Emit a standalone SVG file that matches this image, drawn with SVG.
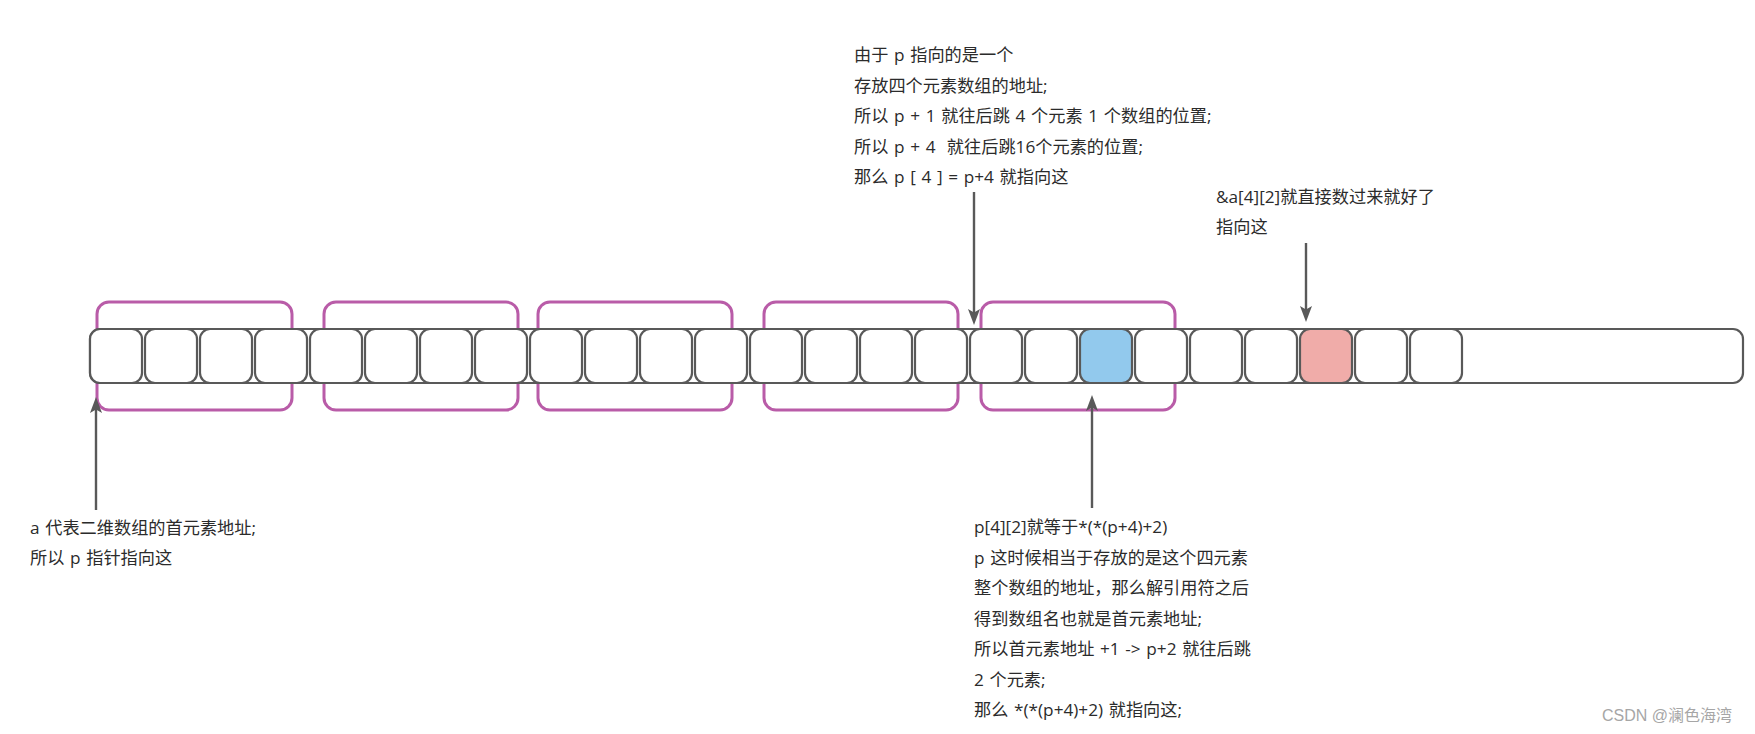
<svg xmlns="http://www.w3.org/2000/svg" width="1755" height="734" viewBox="0 0 1755 734">
<style>
.cell{fill:#ffffff;stroke:#595959;stroke-width:2.2}
.grp{fill:none;stroke:#b95ca8;stroke-width:3}
.conn{stroke:#595959;stroke-width:2.4;fill:none}
.t{font-family:"Open Sans","Noto Sans CJK SC",sans-serif;font-size:17.2px;word-spacing:1.2px;fill:#2b2b2b;white-space:pre}
.wm{font-family:"Liberation Sans","Noto Sans CJK SC",sans-serif;font-size:16px;fill:#a6a6a6}
</style>
<defs>
<marker id="arr" markerUnits="userSpaceOnUse" markerWidth="18" markerHeight="14" refX="11" refY="6" orient="auto">
<path d="M0,0 L16,6 L0,12 L3.5,6 Z" fill="#595959"/>
</marker>
</defs>
<rect width="1755" height="734" fill="#ffffff"/>
<g id="groups">
<rect id="g0" class="grp" x="97" y="302" width="195" height="108" rx="12"/>
<rect id="g1" class="grp" x="324" y="302" width="194" height="108" rx="12"/>
<rect id="g2" class="grp" x="538" y="302" width="194" height="108" rx="12"/>
<rect id="g3" class="grp" x="764" y="302" width="194" height="108" rx="12"/>
<rect id="g4" class="grp" x="981" y="302" width="194" height="108" rx="12"/>
</g>
<g id="array">
<rect id="bar" class="cell" x="90" y="329" width="1653" height="54" rx="10"/>
<rect id="c0" class="cell" x="90" y="329" width="52" height="54" rx="10"/>
<rect id="c1" class="cell" x="145" y="329" width="52" height="54" rx="10"/>
<rect id="c2" class="cell" x="200" y="329" width="52" height="54" rx="10"/>
<rect id="c3" class="cell" x="255" y="329" width="52" height="54" rx="10"/>
<rect id="c4" class="cell" x="310" y="329" width="52" height="54" rx="10"/>
<rect id="c5" class="cell" x="365" y="329" width="52" height="54" rx="10"/>
<rect id="c6" class="cell" x="420" y="329" width="52" height="54" rx="10"/>
<rect id="c7" class="cell" x="475" y="329" width="52" height="54" rx="10"/>
<rect id="c8" class="cell" x="530" y="329" width="52" height="54" rx="10"/>
<rect id="c9" class="cell" x="585" y="329" width="52" height="54" rx="10"/>
<rect id="c10" class="cell" x="640" y="329" width="52" height="54" rx="10"/>
<rect id="c11" class="cell" x="695" y="329" width="52" height="54" rx="10"/>
<rect id="c12" class="cell" x="750" y="329" width="52" height="54" rx="10"/>
<rect id="c13" class="cell" x="805" y="329" width="52" height="54" rx="10"/>
<rect id="c14" class="cell" x="860" y="329" width="52" height="54" rx="10"/>
<rect id="c15" class="cell" x="915" y="329" width="52" height="54" rx="10"/>
<rect id="c16" class="cell" x="970" y="329" width="52" height="54" rx="10"/>
<rect id="c17" class="cell" x="1025" y="329" width="52" height="54" rx="10"/>
<rect id="c18" class="cell" x="1080" y="329" width="52" height="54" rx="10" style="fill:#92c9ed"/>
<rect id="c19" class="cell" x="1135" y="329" width="52" height="54" rx="10"/>
<rect id="c20" class="cell" x="1190" y="329" width="52" height="54" rx="10"/>
<rect id="c21" class="cell" x="1245" y="329" width="52" height="54" rx="10"/>
<rect id="c22" class="cell" x="1300" y="329" width="52" height="54" rx="10" style="fill:#f0aca9"/>
<rect id="c23" class="cell" x="1355" y="329" width="52" height="54" rx="10"/>
<rect id="c24" class="cell" x="1410" y="329" width="52" height="54" rx="10"/>
</g>
<g id="connectors">
<line class="conn" x1="96" y1="510" x2="96" y2="402" marker-end="url(#arr)"/>
<line class="conn" x1="974" y1="192" x2="974" y2="320" marker-end="url(#arr)"/>
<line class="conn" x1="1092" y1="508" x2="1092" y2="400" marker-end="url(#arr)"/>
<line class="conn" x1="1306" y1="243" x2="1306" y2="317" marker-end="url(#arr)"/>
</g>
<g id="note-top">
<text class="t" x="854" y="61">由于 p 指向的是一个</text>
<text class="t" x="854" y="91.5">存放四个元素数组的地址;</text>
<text class="t" x="854" y="122">所以 p + 1 就往后跳 4 个元素 1 个数组的位置;</text>
<text class="t" x="854" y="152.5">所以 p + 4  就往后跳16个元素的位置;</text>
<text class="t" x="854" y="183">那么 p [ 4 ] = p+4 就指向这</text>
</g>
<g id="note-red">
<text class="t" x="1216" y="202.5">&amp;a[4][2]就直接数过来就好了</text>
<text class="t" x="1216" y="232.5">指向这</text>
</g>
<g id="note-left">
<text class="t" x="30" y="534">a 代表二维数组的首元素地址;</text>
<text class="t" x="30" y="563.5">所以 p 指针指向这</text>
</g>
<g id="note-bottom">
<text class="t" x="974" y="533">p[4][2]就等于*(*(p+4)+2)</text>
<text class="t" x="974" y="563.5">p 这时候相当于存放的是这个四元素</text>
<text class="t" x="974" y="594">整个数组的地址，那么解引用符之后</text>
<text class="t" x="974" y="624.5">得到数组名也就是首元素地址;</text>
<text class="t" x="974" y="655">所以首元素地址 +1 -&gt; p+2 就往后跳</text>
<text class="t" x="974" y="685.5">2 个元素;</text>
<text class="t" x="974" y="716">那么 *(*(p+4)+2) 就指向这;</text>
</g>
<text class="wm" x="1602" y="721">CSDN @澜色海湾</text>
</svg>
